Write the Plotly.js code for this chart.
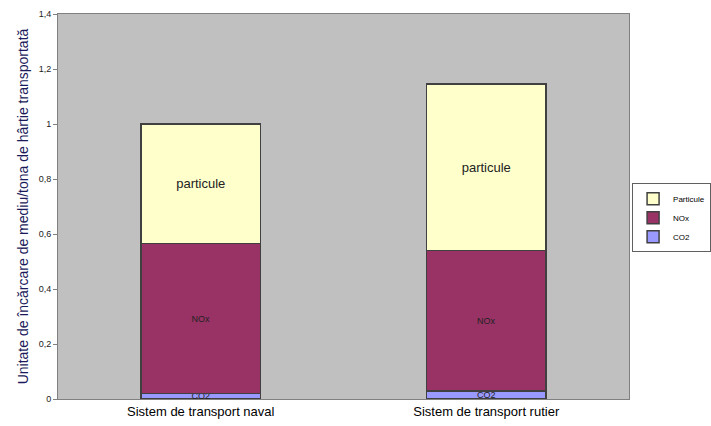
<!DOCTYPE html>
<html>
<head>
<meta charset="utf-8">
<script src="https://cdn.plot.ly/plotly-3.0.1.min.js"></script>
<style>html,body{margin:0;padding:0;background:#fff;}#chart{width:711px;height:426px;}</style>
</head>
<body>
<div id="chart"></div>
<script>
const categories = ["Sistem de transport naval", "Sistem de transport rutier"];
const seriesNames = ["CO2", "NOx", "Particule"];
const barLabels = ["CO2", "NOx", "particule"];
const co2 = [0.02, 0.03];
const nox = [0.545, 0.51];
const particule = [0.435, 0.605];
const yTicks = [0, 0.2, 0.4, 0.6, 0.8, 1, 1.2, 1.4];
const yTickText = ["0", "0,2", "0,4", "0,6", "0,8", "1", "1,2", "1,4"];

const colors = ["#9999FF", "#993366", "#FFFFCC"];
const textSizes = [9, 9, 13];
const values = [co2, nox, particule];

const traces = values.map((v, i) => ({
  type: "bar",
  name: seriesNames[i],
  x: categories,
  y: v,
  width: 0.42,
  marker: {color: colors[i], line: {color: "#404040", width: 1.5}},
  text: categories.map(() => barLabels[i]),
  textposition: "inside",
  insidetextanchor: "middle",
  constraintext: "none",
  textfont: {family: "Liberation Sans, Arial, sans-serif", size: textSizes[i], color: "#222"},
  hoverinfo: "y+name"
}));

const layout = {
  width: 711, height: 426,
  barmode: "stack",
  paper_bgcolor: "#ffffff",
  plot_bgcolor: "#C0C0C0",
  margin: {l: 58, r: 82, t: 14, b: 27},
  showlegend: true,
  legend: {
    xref: "container", yref: "container",
    x: 0.889, y: 0.57, xanchor: "left", yanchor: "top",
    bgcolor: "#ffffff", bordercolor: "#606060", borderwidth: 1,
    font: {family: "Liberation Sans, Arial, sans-serif", size: 8, color: "#000"},
    traceorder: "reversed",
    tracegroupgap: 0,
    itemwidth: 30
  },
  xaxis: {
    type: "category",
    showline: true, linecolor: "#808080", linewidth: 1, mirror: true,
    ticks: "", showgrid: false,
    tickfont: {family: "Liberation Sans, Arial, sans-serif", size: 13, color: "#000"}
  },
  yaxis: {
    range: [0, 1.4],
    tickvals: yTicks, ticktext: yTickText,
    showline: true, linecolor: "#808080", linewidth: 1, mirror: true,
    ticks: "outside", ticklen: 4, tickcolor: "#808080",
    showgrid: false, zeroline: false,
    tickfont: {family: "Liberation Sans, Arial, sans-serif", size: 9, color: "#222"},
    title: {text: "Unitate de încărcare de mediu/tona de hârtie transportată", standoff: 6,
            font: {family: "Liberation Sans, Arial, sans-serif", size: 14, color: "#1a1a5a"}}
  }
};

Plotly.newPlot("chart", traces, layout, {displayModeBar: false, staticPlot: true});
</script>
</body>
</html>
